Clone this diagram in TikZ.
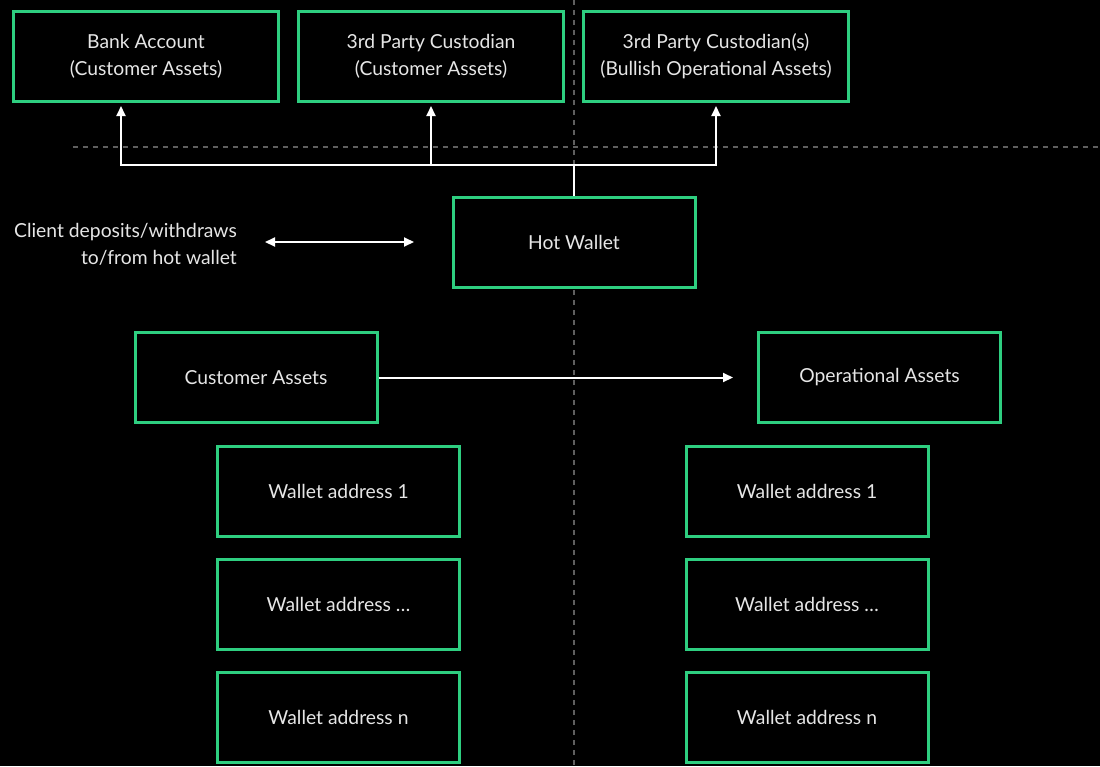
\documentclass[tikz,border=0pt]{standalone}
\usepackage{fontspec}
\setmainfont{Lato}
\usetikzlibrary{arrows.meta}
\definecolor{boxgreen}{RGB}{46,206,128}
\definecolor{txt}{RGB}{230,230,230}
\definecolor{dashgray}{RGB}{95,95,95}
\tikzset{
  lbl/.style={text=txt, font=\fontsize{19.3}{27}\selectfont},
  box/.style={draw=boxgreen, line width=3pt, fill=black, rectangle, inner sep=0pt,
    align=center, lbl},
  bigbox/.style={box, minimum width=265pt, minimum height=90pt},
  midbox/.style={box, minimum width=242pt, minimum height=90pt},
  conn/.style={draw=white, line width=2pt},
  arr/.style={conn, -{Triangle[length=10pt,width=9pt]}},
  darr/.style={conn, {Triangle[length=10pt,width=9pt]}-{Triangle[length=10pt,width=9pt]}},
  guide/.style={draw=dashgray, line width=1.5pt, dash pattern=on 5pt off 5pt}
}
\begin{document}
\begin{tikzpicture}[x=1pt,y=-1pt]
\fill[black] (0,0) rectangle (1100,766);
\useasboundingbox (0,0) rectangle (1100,766);
% guide lines
\draw[guide] (73,147) -- (1100,147);
\draw[guide] (574,0) -- (574,766);
% top boxes
\node[bigbox] (bank) at (146,56.5) {Bank Account\\(Customer Assets)};
\node[bigbox] (cust) at (431,56.5) {3rd Party Custodian\\(Customer Assets)};
\node[bigbox] (op3) at (716,56.5) {3rd Party Custodian(s)\\(Bullish Operational Assets)};
% hot wallet
\node[midbox] (hot) at (574,242.5) {Hot Wallet};
% asset boxes
\node[midbox] (ca) at (256,377.5) {Customer Assets};
\node[midbox] (oa) at (879.5,377.5) {Operational Assets};
% wallets
\node[midbox] (l1) at (338.5,491.5) {Wallet address 1};
\node[midbox] (l2) at (338.5,604.5) {Wallet address \dots};
\node[midbox] (l3) at (338.5,717.5) {Wallet address n};
\node[midbox] (r1) at (807,491.5) {Wallet address 1};
\node[midbox] (r2) at (807,604.5) {Wallet address \dots};
\node[midbox] (r3) at (807,717.5) {Wallet address n};
% client label
\node[lbl, align=right, anchor=east, inner sep=0pt] (client) at (237,244.5) {Client deposits/withdraws\\to/from hot wallet};
\coordinate (cl) at (265,242);
\coordinate (cr) at (414,242);
\draw[darr] (cl) -- (cr);
% hot wallet to top boxes
\coordinate (j) at (574,165);
\draw[conn] (hot.north) -- (j);
\draw[arr, shorten >=3pt] (j) -| ([xshift=-25pt]bank.south);
\draw[arr, shorten >=3pt] (j) -| (cust.south);
\draw[arr, shorten >=3pt] (j) -| (op3.south);
% customer to operational
\draw[arr, shorten >=24pt] (ca.east) -- (oa.west);
\end{tikzpicture}
\end{document}
